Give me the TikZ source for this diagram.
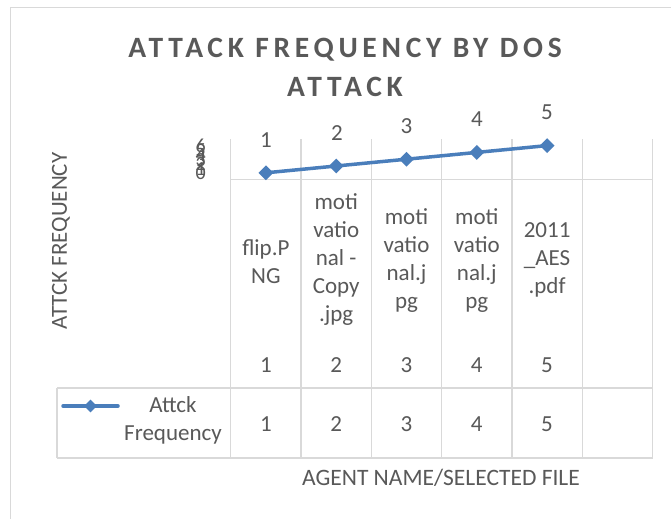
\documentclass[tikz,border=0pt]{standalone}
\usepackage{fontspec}
\setmainfont{Carlito}
\usetikzlibrary{shapes.geometric}
\definecolor{txt}{HTML}{595959}
\definecolor{grid}{HTML}{D9D9D9}
\definecolor{series}{HTML}{4A7EBB}
\tikzset{
  lbl/.style={text=txt, inner sep=0pt, font=\fontsize{23}{28}\selectfont},
  cat/.style={lbl, align=center},
  gridline/.style={draw=grid, line width=1.4pt},
  marker/.style={diamond, fill=series, draw=none, inner sep=0pt, minimum width=15pt, minimum height=15pt},
  serline/.style={draw=series, line width=3.5pt},
}
\begin{document}
\begin{tikzpicture}[x=1pt,y=-1pt]
\useasboundingbox (0,0) rectangle (671,519);
\fill[white] (0,0) rectangle (671,519);

% chart frame (only the top and left edges fall inside the page)
\draw[gridline] (671,7.5) -- (10.5,7.5) -- (10.5,519);

% title
\node[text=txt, align=center, font=\fontsize{29.5}{39}\selectfont\bfseries\addfontfeature{LetterSpace=16}] (title) at (345,67) {ATTACK FREQUENCY BY DOS\\ATTACK};

% plot area grid and data table
\foreach \i in {0,...,6} {
  \draw[gridline] ({230.7+70.3*\i},139.3) -- ({230.7+70.3*\i},458);
}
\draw[gridline] (230.7,179.5) -- (652.5,179.5);
\draw[gridline] (57,388) -- (652.5,388);
\draw[gridline] (57,458) -- (652.5,458);
\draw[gridline] (57,388) -- (57,458);

% y axis tick labels (squeezed into the short value axis)
\foreach \v in {0,...,6} {
  \node[lbl, anchor=east, font=\fontsize{20}{24}\selectfont] (ytick\v) at (206,{173.5-4.6*\v}) {\v};
}

% axis titles
\node[lbl, rotate=90] (ytitle) at (61,241) {ATTCK FREQUENCY};
\node[lbl, font=\fontsize{23.5}{28}\selectfont] (xtitle) at (441,478) {AGENT NAME/SELECTED FILE};

% series
\coordinate (c1) at (265.9,172.8);
\coordinate (c2) at (336.2,166.0);
\coordinate (c3) at (406.5,159.2);
\coordinate (c4) at (476.8,152.4);
\coordinate (c5) at (547.1,145.6);
\draw[serline] (c1) -- (c2) -- (c3) -- (c4) -- (c5);
\foreach \k in {1,...,5} {
  \node[marker] (m\k) at (c\k) {};
}
\node[lbl] (dl1) at (266,140) {1};
\node[lbl] (dl2) at (337,133) {2};
\node[lbl] (dl3) at (406.5,126.5) {3};
\node[lbl] (dl4) at (477,119.5) {4};
\node[lbl] (dl5) at (547,112.5) {5};

% category labels
\node[cat] (cat1) at (265.9,262) {flip.P\\NG};
\node[cat] (cat2) at (336.2,259.5) {moti\\vatio\\nal -\\Copy\\.jpg};
\node[cat] (cat3) at (406.5,261) {moti\\vatio\\nal.j\\pg};
\node[cat] (cat4) at (476.8,261) {moti\\vatio\\nal.j\\pg};
\node[cat] (cat5) at (547.1,260) {2011\\\_AES\\.pdf};

% index row
\foreach \k in {1,...,5} {
  \node[lbl] (idx\k) at ({230.7+70.3*\k-35.15},365) {\k};
}

% legend cell and data row
\coordinate (lk1) at (63,406);
\coordinate (lk2) at (118,406);
\draw[draw=series, line width=3.5pt, line cap=round] (lk1) -- (lk2);
\node[marker, minimum width=13pt, minimum height=13pt] (lkm) at (90.5,406) {};
\node[cat] (legtext) at (173,420) {Attck\\Frequency};
\foreach \k in {1,...,5} {
  \node[lbl] (val\k) at ({230.7+70.3*\k-35.15},424) {\k};
}
\end{tikzpicture}
\end{document}
